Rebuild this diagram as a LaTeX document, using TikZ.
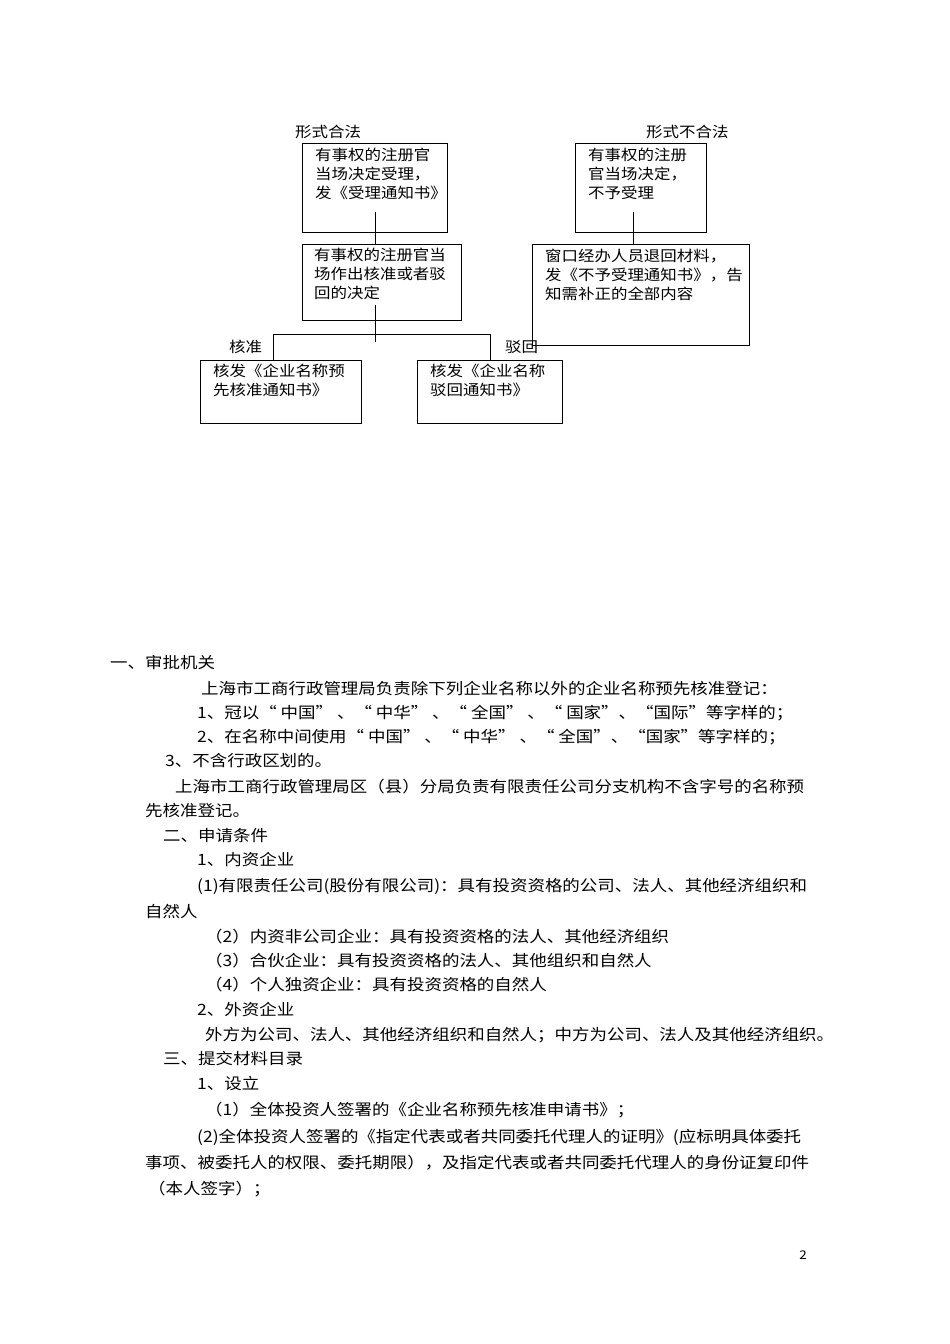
\documentclass[tikz,border=0pt]{standalone}
\usepackage{fontspec}
\setmainfont[FakeStretch=1.12]{Noto Sans CJK SC}
\begin{document}
\begin{tikzpicture}[x=1pt,y=-1pt,
  box/.style={draw,line width=0.9pt,inner sep=0pt,anchor=north west},
  btxt/.style={anchor=north west,inner sep=0pt,align=left,font=\fontsize{14.7}{19}\selectfont},
  lbl/.style={anchor=west,inner sep=0pt,font=\fontsize{14.7}{18}\selectfont},
  body/.style={anchor=west,inner sep=0pt,font=\fontsize{15.6}{18}\selectfont},
  ln/.style={line width=0.9pt}]
\useasboundingbox (0,0) rectangle (950,1344);
% boxes
\node[box,minimum width=145pt,minimum height=89pt] (b1) at (302,143) {};
\node[box,minimum width=159pt,minimum height=76pt] (b2) at (302,244) {};
\node[box,minimum width=161pt,minimum height=63pt] (b3) at (200,360) {};
\node[box,minimum width=145pt,minimum height=63pt] (b4) at (417,360) {};
\node[box,minimum width=131pt,minimum height=89pt] (b5) at (575,143) {};
\node[box,minimum width=217pt,minimum height=101pt] (b6) at (532,244) {};
\node[btxt] (t1) at (315,148) {有事权的注册官\\当场决定受理，\\发《受理通知书》};
\node[btxt] (t2) at (314,248) {有事权的注册官当\\场作出核准或者驳\\回的决定};
\node[btxt] (t3) at (213,364) {核发《企业名称预\\先核准通知书》};
\node[btxt] (t4) at (430,364) {核发《企业名称\\驳回通知书》};
\node[btxt] (t5) at (588,148) {有事权的注册\\官当场决定，\\不予受理};
\node[btxt] (t6) at (545,249) {窗口经办人员退回材料，\\发《不予受理通知书》，告\\知需补正的全部内容};
% labels
\node[lbl] (l1) at (295,132) {形式合法};
\node[lbl] (l2) at (646,132) {形式不合法};
\node[lbl] (l3) at (229,347) {核准};
\node[lbl] (l4) at (505,347) {驳回};
% connectors
\coordinate (c1) at (375,212);
\coordinate (c2) at (375,305);
\coordinate (c3) at (375,342);
\coordinate (c4) at (633,212);
\draw[ln] (c1) -- (c1 |- b2.north);
\draw[ln] (c2) -- (c3);
\draw[ln] (b3.north -| 273,0) |- (490,334) -- (b4.north -| 490,0);
\draw[ln] (c4) -- (c4 |- b6.north);
% body
\node[body] (p1) at (110,663) {一、审批机关};
\node[body] (p2) at (201,689) {上海市工商行政管理局负责除下列企业名称以外的企业名称预先核准登记：};
\node[body] (p3) at (197,713) {1、冠以“ 中国” 、“ 中华” 、“ 全国” 、“ 国家”、“国际”等字样的；};
\node[body] (p4) at (197,737) {2、在名称中间使用“ 中国” 、“ 中华” 、“ 全国”、“国家”等字样的；};
\node[body] (p5) at (165,761) {3、不含行政区划的。};
\node[body] (p6) at (175,787) {上海市工商行政管理局区（县）分局负责有限责任公司分支机构不含字号的名称预};
\node[body] (p7) at (145,811) {先核准登记。};
\node[body] (p8) at (163,836) {二、申请条件};
\node[body] (p9) at (197,860) {1、内资企业};
\node[body] (p10) at (197,886) {(1)有限责任公司(股份有限公司)：具有投资资格的公司、法人、其他经济组织和};
\node[body] (p11) at (145,912) {自然人};
\node[body] (p12) at (205,937) {（2）内资非公司企业：具有投资资格的法人、其他经济组织};
\node[body] (p13) at (205,961) {（3）合伙企业：具有投资资格的法人、其他组织和自然人};
\node[body] (p14) at (205,985) {（4）个人独资企业：具有投资资格的自然人};
\node[body] (p15) at (197,1010) {2、外资企业};
\node[body] (p16) at (205,1035) {外方为公司、法人、其他经济组织和自然人；中方为公司、法人及其他经济组织。};
\node[body] (p17) at (163,1059) {三、提交材料目录};
\node[body] (p18) at (197,1084) {1、设立};
\node[body] (p19) at (205,1110) {（1）全体投资人签署的《企业名称预先核准申请书》；};
\node[body] (p20) at (197,1137) {(2)全体投资人签署的《指定代表或者共同委托代理人的证明》(应标明具体委托};
\node[body] (p21) at (145,1163) {事项、被委托人的权限、委托期限），及指定代表或者共同委托代理人的身份证复印件};
\node[body] (p22) at (148,1189) {（本人签字）；};
\node[anchor=center,inner sep=0pt,font=\fontsize{12}{14}\selectfont] (pg) at (803,1255) {2};
\end{tikzpicture}
\end{document}
